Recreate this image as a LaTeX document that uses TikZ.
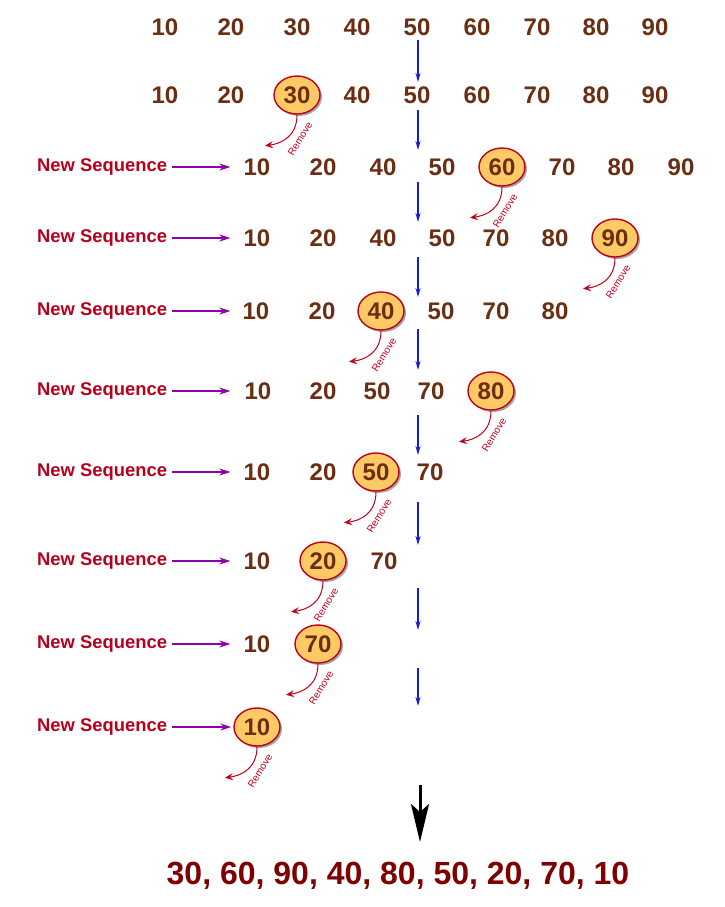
\documentclass[tikz,border=0pt]{standalone}
\usepackage{fontspec}
\setmainfont{Liberation Sans}
\usepackage{xcolor}
\usetikzlibrary{arrows.meta,calc,positioning,shapes.geometric,shadows}

\definecolor{numbrown}{HTML}{6B2E12}
\definecolor{seqred}{HTML}{B5001E}
\definecolor{pickfill}{HTML}{FFC966}
\definecolor{pickline}{HTML}{C0001A}
\definecolor{flowblue}{HTML}{1A1ADB}
\definecolor{seqpurple}{HTML}{8E00A8}
\definecolor{resultred}{HTML}{7E0000}

\newcommand{\FlowX}{418}
\newcommand{\RemoveMark}[1]{%
 \coordinate (#1-end) at ($(#1.south)+(-32,31)$);
 \draw[removeline] (#1.south) .. controls +(0,22) and +(16,-2) .. (#1-end);
 \node[removetext] at ($(#1.south)+(3,24)$) {Remove};}

\begin{document}
\begin{tikzpicture}[x=1pt,y=-1pt,
 num/.style={text=numbrown,font=\fontsize{24}{28}\selectfont\bfseries,inner sep=1pt},
 picked/.style={num,ellipse,draw=pickline,line width=1.4pt,fill=pickfill,
  minimum width=46pt,minimum height=38pt,inner sep=0pt,
  drop shadow={shadow xshift=2pt,shadow yshift=-2pt,fill=black,opacity=.35}},
 seqlabel/.style={text=seqred,font=\fontsize{18.4}{22}\selectfont\bfseries,anchor=west,inner sep=0pt},
 seqarrow/.style={draw=seqpurple,line width=1.4pt,-{Stealth[length=11pt,width=7pt]},shorten <=5pt},
 flow/.style={draw=flowblue,line width=1.4pt,-{Stealth[length=9pt,width=5pt]}},
 removeline/.style={draw=pickline,line width=1pt,-{Stealth[length=8pt,width=7pt,inset=3pt]}},
 removetext/.style={text=pickline,font=\fontsize{10}{12}\selectfont,rotate=58,inner sep=0pt},
 result/.style={text=resultred,font=\fontsize{32}{36}\selectfont\bfseries,inner sep=0pt}]
\useasboundingbox (0,0) rectangle (725,907);

% starting sequence
\foreach \v/\xx in {10/165,20/231,30/297,40/357,50/417,60/477,70/537,80/596,90/655}
 \node[num] (r0-\v) at (\xx,27) {\v};

% row 1
\foreach \v/\xx in {10/165,20/231,40/357,50/417,60/477,70/537,80/596,90/655}
 \node[num] (r1-\v) at (\xx,95) {\v};
\node[picked] (p30) at (297,95) {30};
\RemoveMark{p30}

% row 2
\node[seqlabel] (ns2) at (37,167) {New Sequence};
\foreach \v/\xx in {10/257,20/323,40/383,50/442,70/562,80/621,90/681}
 \node[num] (r2-\v) at (\xx,167) {\v};
\node[picked] (p60) at (502,167) {60};
\RemoveMark{p60}
\draw[seqarrow,shorten >=12pt] (ns2.east) -- (r2-10.west);

% row 3
\node[seqlabel] (ns3) at (37,238) {New Sequence};
\foreach \v/\xx in {10/257,20/323,40/383,50/442,70/496,80/555}
 \node[num] (r3-\v) at (\xx,238) {\v};
\node[picked] (p90) at (615,238) {90};
\RemoveMark{p90}
\draw[seqarrow,shorten >=12pt] (ns3.east) -- (r3-10.west);

% row 4
\node[seqlabel] (ns4) at (37,311) {New Sequence};
\foreach \v/\xx in {10/256,20/322,50/441,70/496,80/555}
 \node[num] (r4-\v) at (\xx,311) {\v};
\node[picked] (p40) at (381,311) {40};
\RemoveMark{p40}
\draw[seqarrow,shorten >=11pt] (ns4.east) -- (r4-10.west);

% row 5
\node[seqlabel] (ns5) at (37,391) {New Sequence};
\foreach \v/\xx in {10/258,20/323,50/377,70/431}
 \node[num] (r5-\v) at (\xx,391) {\v};
\node[picked] (p80) at (491,391) {80};
\RemoveMark{p80}
\draw[seqarrow,shorten >=13pt] (ns5.east) -- (r5-10.west);

% row 6
\node[seqlabel] (ns6) at (37,472) {New Sequence};
\foreach \v/\xx in {10/257,20/323,70/430}
 \node[num] (r6-\v) at (\xx,472) {\v};
\node[picked] (p50) at (376,472) {50};
\RemoveMark{p50}
\draw[seqarrow,shorten >=12pt] (ns6.east) -- (r6-10.west);

% row 7
\node[seqlabel] (ns7) at (37,561) {New Sequence};
\foreach \v/\xx in {10/257,70/384}
 \node[num] (r7-\v) at (\xx,561) {\v};
\node[picked] (p20) at (323,561) {20};
\RemoveMark{p20}
\draw[seqarrow,shorten >=12pt] (ns7.east) -- (r7-10.west);

% row 8
\node[seqlabel] (ns8) at (37,644) {New Sequence};
\node[num] (r8-10) at (257,644) {10};
\node[picked] (p70) at (318,644) {70};
\RemoveMark{p70}
\draw[seqarrow,shorten >=12pt] (ns8.east) -- (r8-10.west);

% row 9
\node[seqlabel] (ns9) at (37,727) {New Sequence};
\node[picked] (p10) at (257,727) {10};
\RemoveMark{p10}
\draw[seqarrow,shorten >=2pt] (ns9.east) -- (p10.west);

% downward flow between rows
\foreach \i/\ya/\yb in {0/40/82,1/110/150,2/182/222,3/257/297,4/329/370,5/415/455,6/502/545,7/588/630,8/668/706}{
 \coordinate (fa\i) at (\FlowX,\ya);
 \coordinate (fb\i) at (\FlowX,\yb);
 \draw[flow] (fa\i) -- (fb\i);
}

% result
\node[result] (result) at (398,876) {30, 60, 90, 40, 80, 50, 20, 70, 10};
\coordinate (down) at (420,785);
\coordinate (downtip) at (420,842);
\draw[line width=3pt,-{Stealth[length=38pt,width=18pt,inset=8pt]}] (down) -- (downtip);
\end{tikzpicture}
\end{document}
